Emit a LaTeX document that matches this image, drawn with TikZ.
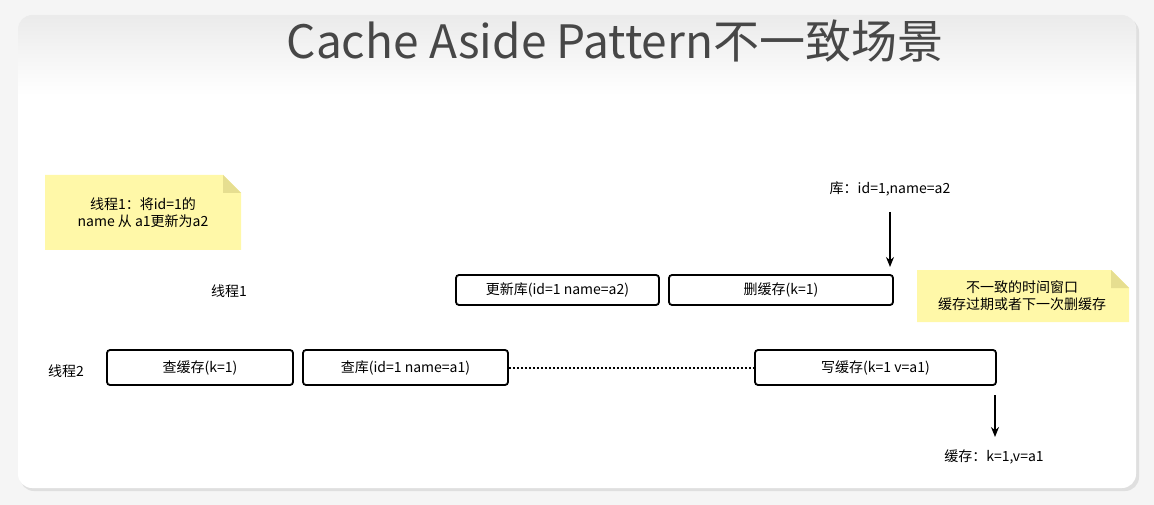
\documentclass[tikz,border=0pt]{standalone}
\usepackage{fontspec}
\setmainfont{Noto Sans CJK SC}
\usetikzlibrary{arrows.meta}
\definecolor{note}{HTML}{FFF8A8}
\definecolor{fold}{HTML}{E6DE90}
\tikzset{
  box/.style={draw,line width=1.8pt,rounded corners=3pt,font=\fontsize{14}{16}\selectfont},
  lbl/.style={font=\fontsize{14}{17}\selectfont,align=center},
  arr/.style={-{Stealth[length=10pt,width=8pt]},line width=1.6pt}
}
\begin{document}
\begin{tikzpicture}[x=1pt,y=-1pt]
\useasboundingbox (0,0) rectangle (1154,505);
\fill[gray!8] (0,0) rectangle (1154,505);
\fill[gray!25,rounded corners=14pt] (20,18) rectangle (1139,491);
\fill[white,rounded corners=14pt] (18,15) rectangle (1136,488);
\begin{scope}
\clip[rounded corners=14pt] (18,15) rectangle (1136,488);
\shade[top color=gray!16,bottom color=white] (18,15) rectangle (1136,95);
\end{scope}
\node[font=\fontsize{46}{50}\selectfont,text=black!72] (title) at (615,41) {Cache Aside Pattern不一致场景};
% notes
\fill[note] (45,175) -- (223,175) -- (241,193) -- (241,250) -- (45,250) -- cycle;
\fill[fold] (223,175) -- (223,193) -- (241,193) -- cycle;
\node[lbl] (n1) at (143,213) {线程1：将id=1的\\name 从 a1更新为a2};
\fill[note] (917,270) -- (1111,270) -- (1129,288) -- (1129,322) -- (917,322) -- cycle;
\fill[fold] (1111,270) -- (1111,288) -- (1129,288) -- cycle;
\node[lbl] (n2) at (1022,296) {不一致的时间窗口\\缓存过期或者下一次删缓存};
\node[lbl] (t1) at (229,291) {线程1};
\node[lbl] (t2) at (66,371) {线程2};
\node[box,minimum width=203pt,minimum height=30pt] (b1) at (557.5,290) {更新库(id=1 name=a2)};
\node[box,minimum width=224pt,minimum height=30pt] (b2) at (781,290) {删缓存(k=1)};
\node[box,minimum width=186pt,minimum height=35pt] (c1) at (200,367.5) {查缓存(k=1)};
\node[box,minimum width=205pt,minimum height=35pt] (c2) at (405.5,367.5) {查库(id=1 name=a1)};
\node[box,minimum width=241pt,minimum height=35pt] (c3) at (875.5,367.5) {写缓存(k=1 v=a1)};
\draw[line width=2pt,dotted] (c2.east) -- (c3.west);
\node[lbl] (db) at (890,189) {库：id=1,name=a2};
\coordinate (dbend) at (890,267);
\draw[arr] (890,212) -- (dbend);
\node[lbl] (cache) at (994,457) {缓存：k=1,v=a1};
\coordinate (cstart) at (995,395);
\draw[arr] (cstart) -- (995,437);
\end{tikzpicture}
\end{document}
